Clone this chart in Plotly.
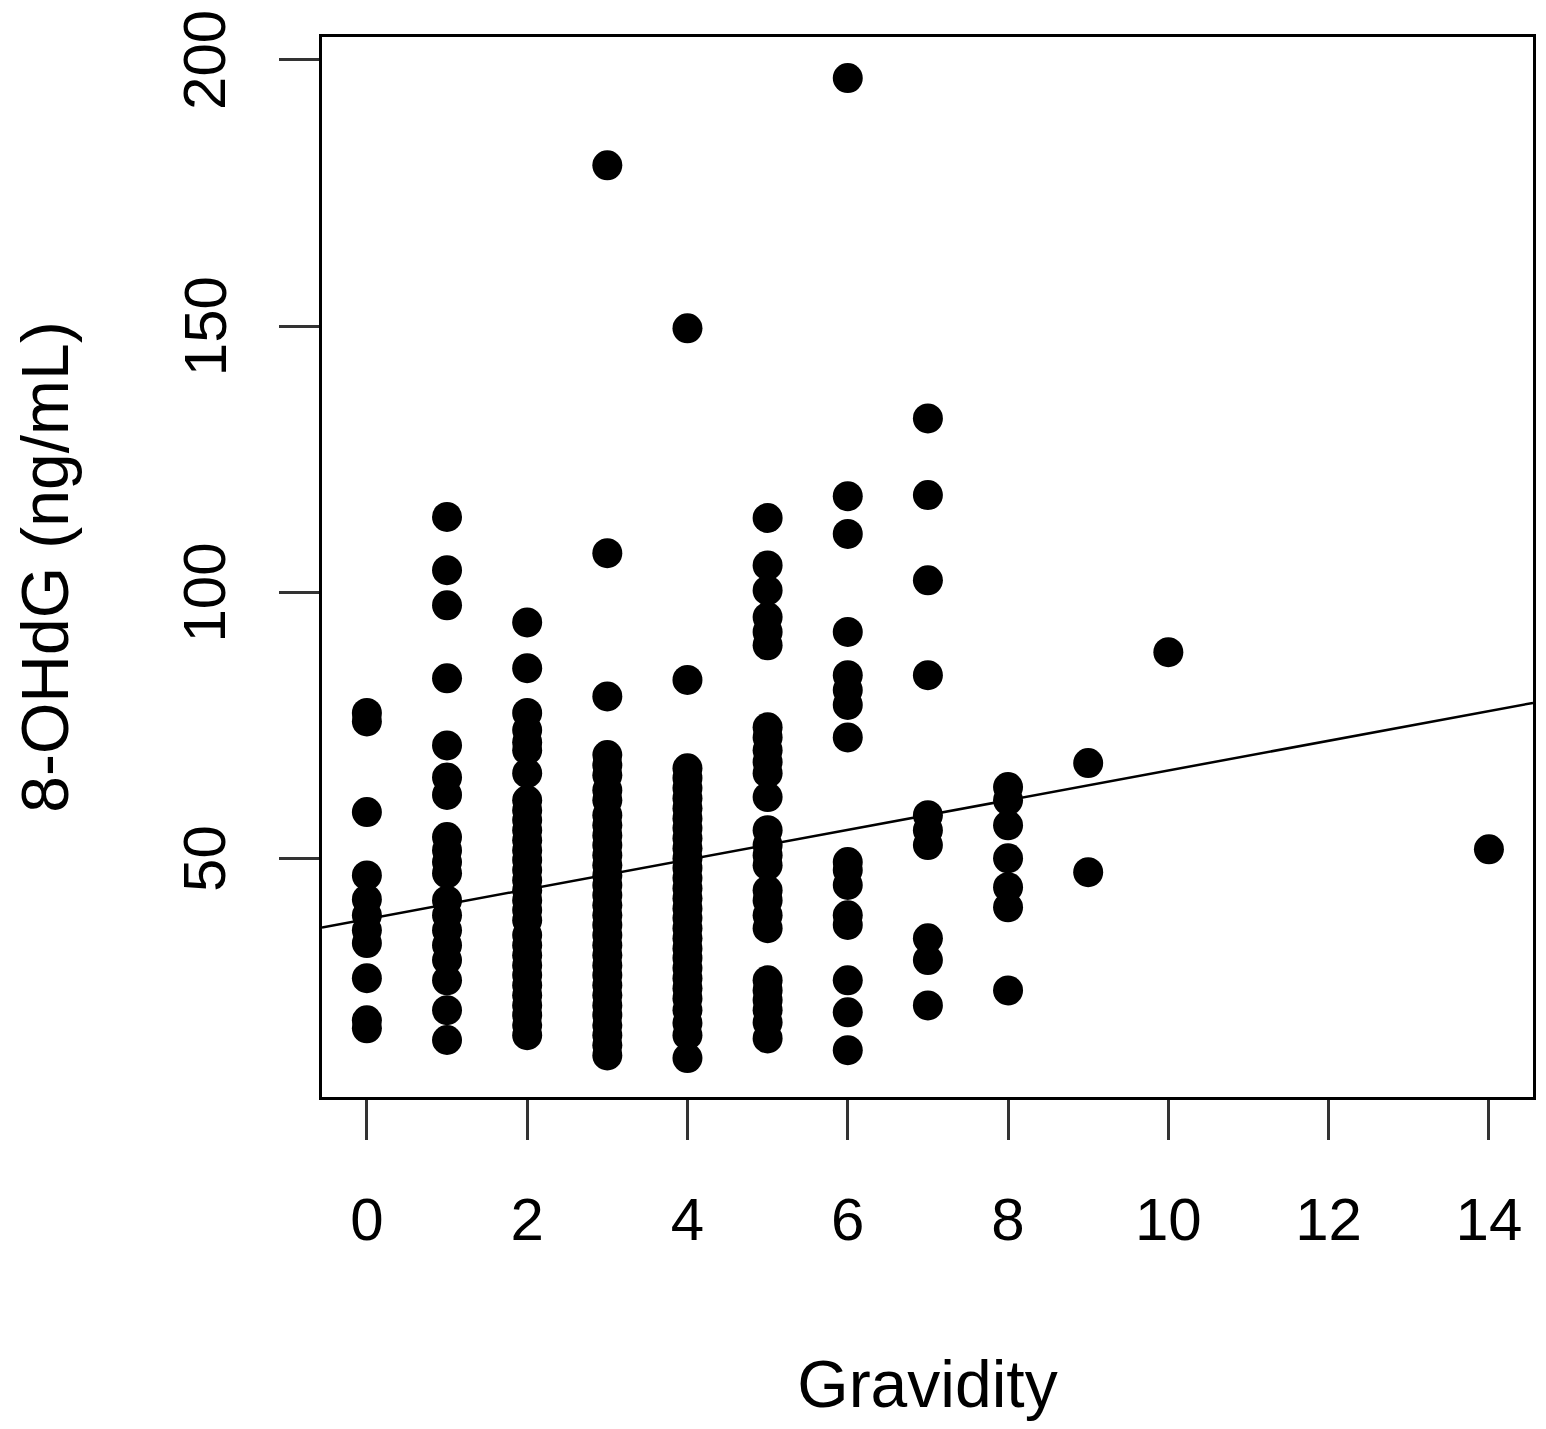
import plotly.graph_objects as go

# 8-OHdG (ng/mL) values, one list per gravidity group
G0 = [77.4, 75.8, 58.8, 46.9, 42.4, 39.4, 36.6, 34.2, 27.6, 19.7, 18.2]
G1 = [114.2, 104.2, 97.6, 83.9, 71.3, 65.3, 62.0, 54.1, 51.6, 49.4, 47.3,
      42.2, 39.4, 36.6, 33.8, 31.0, 27.2, 21.6, 16.0]
G2 = [94.4, 85.8, 77.4, 74.2, 71.9, 70.4, 66.1, 61.0, 59.1, 57.3, 55.4, 53.5,
      51.6, 49.8, 47.9, 46.0, 44.1, 42.2, 40.4, 38.5, 35.7, 33.8, 31.9, 30.0,
      28.2, 26.3, 24.4, 22.5, 20.7, 18.8, 16.9]
G3 = [180.2, 107.4, 80.5, 69.5, 67.6, 65.7, 62.9, 61.0, 58.2, 56.3, 54.4,
      52.6, 50.7, 48.8, 46.9, 45.1, 43.2, 41.3, 39.4, 37.6, 35.7, 33.8, 31.9,
      30.0, 28.2, 26.3, 24.4, 22.5, 20.7, 18.8, 16.9, 15.0, 13.1]
G4 = [149.6, 83.6, 67.0, 65.2, 63.3, 61.4, 59.5, 57.6, 55.8, 53.9, 52.0,
      50.1, 48.3, 46.4, 44.5, 42.6, 40.7, 38.9, 37.0, 35.1, 33.2, 31.4, 29.5,
      27.6, 25.7, 23.8, 21.6, 19.2, 16.9, 12.6]
G5 = [114.0, 105.1, 100.4, 95.4, 92.6, 90.1, 74.7, 72.8, 70.4, 68.2, 66.1,
      61.6, 55.4, 52.6, 50.7, 48.8, 44.1, 42.2, 39.4, 37.0, 27.2, 25.3, 23.5,
      21.6, 19.3, 16.3]
G6 = [196.6, 118.1, 111.0, 92.6, 84.5, 81.7, 78.9, 72.8, 49.4, 47.9, 45.1,
      39.4, 37.6, 27.2, 21.2, 14.1]
G7 = [132.7, 118.3, 102.3, 84.5, 58.2, 55.4, 52.6, 35.1, 31.0, 22.5]
G8 = [63.5, 61.0, 56.3, 50.1, 44.7, 40.9, 25.3]
G9 = [68.0, 47.5]
G10 = [88.8]
G14 = [51.8]

GROUPS = {0: G0, 1: G1, 2: G2, 3: G3, 4: G4, 5: G5, 6: G6, 7: G7,
          8: G8, 9: G9, 10: G10, 14: G14}

# fitted regression line (abline)
INTERCEPT = 38.7
SLOPE = 2.79

X_TICKS = [0, 2, 4, 6, 8, 10, 12, 14]
Y_TICKS = [50, 100, 150, 200]
X_RANGE = [-0.56, 14.55]
Y_RANGE = [5.3, 204.3]

FONT = "Liberation Sans, Arial, sans-serif"

gravidity = []
ohdg = []
for g, vals in GROUPS.items():
    gravidity += [g] * len(vals)
    ohdg += vals

fig = go.Figure()

fig.add_trace(
    go.Scatter(
        x=gravidity,
        y=ohdg,
        mode="markers",
        marker=dict(color="black", size=30, line=dict(width=0)),
        showlegend=False,
        hoverinfo="x+y",
    )
)

fig.add_trace(
    go.Scatter(
        x=X_RANGE,
        y=[INTERCEPT + SLOPE * x for x in X_RANGE],
        mode="lines",
        line=dict(color="black", width=2.5),
        showlegend=False,
        hoverinfo="skip",
    )
)

axis_common = dict(
    showgrid=False,
    zeroline=False,
    showline=True,
    mirror=True,
    linecolor="black",
    linewidth=2.5,
    ticks="outside",
    ticklen=40,
    tickwidth=2.5,
    tickcolor="#333333",
    tickfont=dict(family=FONT, size=60, color="black"),
    automargin=False,
)

# margins allow for the page's default 8px body offset
fig.update_layout(
    width=1546,
    height=1429,
    paper_bgcolor="white",
    plot_bgcolor="white",
    margin=dict(l=314, r=21, t=29, b=340),
    font=dict(family=FONT, color="black"),
    xaxis=dict(
        **axis_common,
        range=X_RANGE,
        tickmode="array",
        tickvals=X_TICKS,
        ticklabelstandoff=28,
        title=dict(text="Gravidity", font=dict(family=FONT, size=66), standoff=110),
    ),
    yaxis=dict(
        **axis_common,
        range=Y_RANGE,
        tickmode="array",
        tickvals=Y_TICKS,
        showticklabels=False,
        title=dict(text="8-OHdG (ng/mL)", font=dict(family=FONT, size=66), standoff=200),
    ),
)

# R-style vertical y tick labels, placed on the y scale
for v in Y_TICKS:
    fig.add_annotation(
        x=0,
        xref="paper",
        y=v,
        yref="y",
        text=str(v),
        textangle=-90,
        showarrow=False,
        xanchor="center",
        yanchor="middle",
        xshift=-117,
        font=dict(family=FONT, size=60, color="black"),
    )

fig.write_html("out.html")
